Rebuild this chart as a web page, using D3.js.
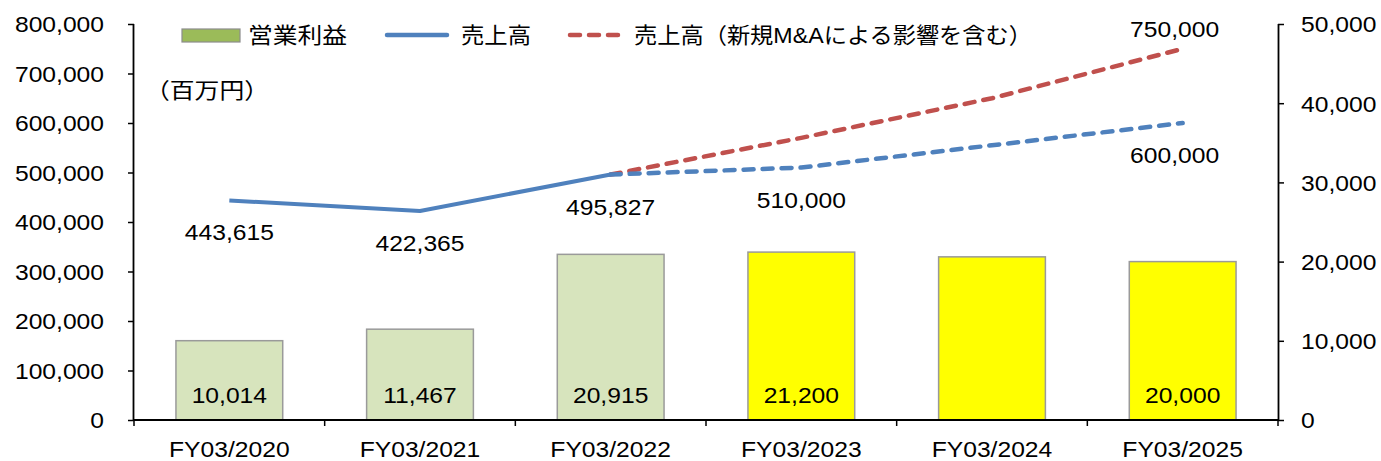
<!DOCTYPE html>
<html>
<head>
<meta charset="utf-8">
<script src="https://cdn.jsdelivr.net/npm/d3@7"></script>
<style>
  body { margin: 0; background: #ffffff; }
  svg text { font-family: "Liberation Sans", Arial, "Noto Sans CJK JP", sans-serif; fill: #000; }
</style>
</head>
<body>
<div class="chart-wrapper"></div>
<script>
// data
let categories = ["FY03/2020", "FY03/2021", "FY03/2022", "FY03/2023", "FY03/2024", "FY03/2025"];
let opProfit = [10014, 11467, 20915, 21200, 20600, 20000];
let opProfitLabels = ["10,014", "11,467", "20,915", "21,200", null, "20,000"];
let isForecast = [false, false, false, true, true, true];
let salesActual = [443615, 422365, 495827, null, null, null];
let salesPlan = [null, null, 495827, 510000, 555000, 600000];
let salesPlanMA = [null, null, 495827, 570000, 650000, 750000];
let salesLabels = ["443,615", "422,365", "495,827", "510,000", null, "600,000"];
let salesMALabels = [null, null, null, null, null, "750,000"];
let leftTicks = [0, 100000, 200000, 300000, 400000, 500000, 600000, 700000, 800000];
let rightTicks = [0, 10000, 20000, 30000, 40000, 50000];

let chartW = 1381;
let chartH = 461;
let padLeft = 134, padRight = 1278, padTop = 24, padBottom = 420;
let stretch = 1.12; // source text is a bit wider than Arial

let blue = "#4F81BD";
let red = "#C0504D";

let viz = d3.select(".chart-wrapper")
          .append("svg")
          .attr("width", chartW)
          .attr("height", chartH)
;

let xScale = d3.scaleBand().domain(categories).range([padLeft, padRight]).paddingInner(0.44).paddingOuter(0.22);
let xBand = d3.scaleBand().domain(categories).range([padLeft, padRight]);
let ySales = d3.scaleLinear().domain([0, 800000]).range([padBottom, padTop]);
let yProfit = d3.scaleLinear().domain([0, 50000]).range([padBottom, padTop]);
let fmt = d3.format(",");

// bars
viz.append("g").selectAll("rect")
    .data(categories)
    .enter()
    .append("rect")
      .attr("x", d => xScale(d))
      .attr("width", xScale.bandwidth())
      .attr("y", (d, i) => yProfit(opProfit[i]))
      .attr("height", (d, i) => padBottom - yProfit(opProfit[i]))
      .attr("fill", (d, i) => isForecast[i] ? "#FFFF00" : "#D7E4BD")
      .attr("stroke", "#9A9A9A")
      .attr("stroke-width", 1.5)
;

// left axis
let leftAxis = d3.axisLeft(ySales).tickValues(leftTicks).tickFormat(fmt).tickSize(6).tickPadding(24);
let leftGroup = viz.append("g").attr("transform", "translate(" + padLeft + ",0)").call(leftAxis);

// right axis
let rightAxis = d3.axisRight(yProfit).tickValues(rightTicks).tickFormat(fmt).tickSize(6).tickPadding(17);
let rightGroup = viz.append("g").attr("transform", "translate(" + padRight + ",0)").call(rightAxis);

// bottom axis (ticks at category boundaries)
let boundaries = categories.map(c => xBand(c)).concat([padRight]);
let xGroup = viz.append("g");
xGroup.append("line")
    .attr("x1", padLeft).attr("x2", padRight)
    .attr("y1", padBottom).attr("y2", padBottom)
    .attr("stroke", "#000").attr("stroke-width", 1.8)
;
xGroup.selectAll(".btick").data(boundaries).enter().append("line")
    .attr("x1", d => d).attr("x2", d => d)
    .attr("y1", padBottom).attr("y2", padBottom + 6)
    .attr("stroke", "#000").attr("stroke-width", 1.5)
;
xGroup.selectAll(".clabel").data(categories).enter().append("text")
    .attr("class", "stretch")
    .attr("x", d => xBand(d) + xBand.bandwidth() / 2)
    .attr("y", 457)
    .attr("text-anchor", "middle")
    .style("font-size", "22px")
    .text(d => d)
;

[leftGroup, rightGroup].forEach(g => {
  g.select(".domain").attr("stroke", "#000").attr("stroke-width", 1.8);
  g.selectAll(".tick line").attr("stroke", "#000").attr("stroke-width", 1.5);
  g.selectAll(".tick text")
    .attr("class", "stretch")
    .style("font-size", "22px")
    .style("font-family", "'Liberation Sans', Arial, sans-serif")
    .attr("dy", "0.36em");
});
// axis lines without the outer ticks
rightGroup.select(".domain").attr("d", "M0.5," + padTop + "V" + padBottom);
leftGroup.select(".domain").attr("d", "M-0.5," + padTop + "V" + padBottom);

// lines
function cx(i) { return xBand(categories[i]) + xBand.bandwidth() / 2; }

let lineGen = d3.line()
    .defined(d => d != null)
    .x((d, i) => cx(i))
    .y(d => ySales(d))
;

viz.append("path")
    .attr("d", lineGen(salesPlanMA))
    .attr("fill", "none")
    .attr("stroke", red)
    .attr("stroke-width", 4.5)
    .attr("stroke-dasharray", "10,9")
    .attr("stroke-linecap", "round")
    .attr("stroke-linejoin", "round")
;
viz.append("path")
    .attr("d", lineGen(salesPlan))
    .attr("fill", "none")
    .attr("stroke", blue)
    .attr("stroke-width", 4.5)
    .attr("stroke-dasharray", "10,9")
    .attr("stroke-linecap", "round")
    .attr("stroke-linejoin", "round")
;
viz.append("path")
    .attr("d", lineGen(salesActual))
    .attr("fill", "none")
    .attr("stroke", blue)
    .attr("stroke-width", 4)
    .attr("stroke-linejoin", "round")
;

// data labels
let salesCombined = categories.map((c, i) => salesActual[i] != null ? salesActual[i] : salesPlan[i]);
viz.append("g").selectAll("text")
    .data(categories)
    .enter()
    .filter((d, i) => salesLabels[i] != null)
    .append("text")
      .attr("class", "stretch")
      .attr("x", d => cx(categories.indexOf(d)) - (categories.indexOf(d) == 5 ? 8 : 0))
      .attr("y", d => ySales(salesCombined[categories.indexOf(d)]) + 40)
      .attr("text-anchor", "middle")
      .style("font-size", "22px")
      .text(d => salesLabels[categories.indexOf(d)])
;
viz.append("g").selectAll("text")
    .data(categories)
    .enter()
    .filter((d, i) => salesMALabels[i] != null)
    .append("text")
      .attr("class", "stretch")
      .attr("x", d => cx(categories.indexOf(d)) - 8)
      .attr("y", d => ySales(salesPlanMA[categories.indexOf(d)]) - 12)
      .attr("text-anchor", "middle")
      .style("font-size", "22px")
      .text(d => salesMALabels[categories.indexOf(d)])
;
viz.append("g").selectAll("text")
    .data(categories)
    .enter()
    .filter((d, i) => opProfitLabels[i] != null)
    .append("text")
      .attr("class", "stretch")
      .attr("x", d => cx(categories.indexOf(d)))
      .attr("y", 403)
      .attr("text-anchor", "middle")
      .style("font-size", "22px")
      .text(d => opProfitLabels[categories.indexOf(d)])
;

// unit
viz.append("text")
    .attr("x", 145).attr("y", 98)
    .style("font-size", "22px")
    .attr("textLength", 124).attr("lengthAdjust", "spacingAndGlyphs")
    .text("（百万円）")
;

// legend
let legend = viz.append("g");
legend.append("rect")
    .attr("x", 182).attr("y", 29).attr("width", 58).attr("height", 13)
    .attr("fill", "#9BBB59").attr("stroke", "#8C8C8C").attr("stroke-width", 1.2)
;
legend.append("text")
    .attr("x", 248).attr("y", 43)
    .style("font-size", "22px")
    .attr("textLength", 99).attr("lengthAdjust", "spacingAndGlyphs")
    .text("営業利益")
;
legend.append("line")
    .attr("x1", 387).attr("x2", 447).attr("y1", 35).attr("y2", 35)
    .attr("stroke", blue).attr("stroke-width", 4.5).attr("stroke-linecap", "round")
;
legend.append("text")
    .attr("x", 461).attr("y", 43)
    .style("font-size", "22px")
    .attr("textLength", 70).attr("lengthAdjust", "spacingAndGlyphs")
    .text("売上高")
;
legend.append("line")
    .attr("x1", 570).attr("x2", 621).attr("y1", 35).attr("y2", 35)
    .attr("stroke", red).attr("stroke-width", 4.5)
    .attr("stroke-dasharray", "10,9").attr("stroke-linecap", "round")
;
legend.append("text")
    .attr("x", 634).attr("y", 43)
    .style("font-size", "22px")
    .attr("textLength", 398).attr("lengthAdjust", "spacingAndGlyphs")
    .text("売上高（新規M&Aによる影響を含む）")
;

// widen the latin text a little so it matches the source
viz.selectAll("text.stretch").each(function(){
  let len = this.getComputedTextLength();
  d3.select(this).attr("textLength", len * stretch).attr("lengthAdjust", "spacingAndGlyphs");
});
</script>
</body>
</html>
